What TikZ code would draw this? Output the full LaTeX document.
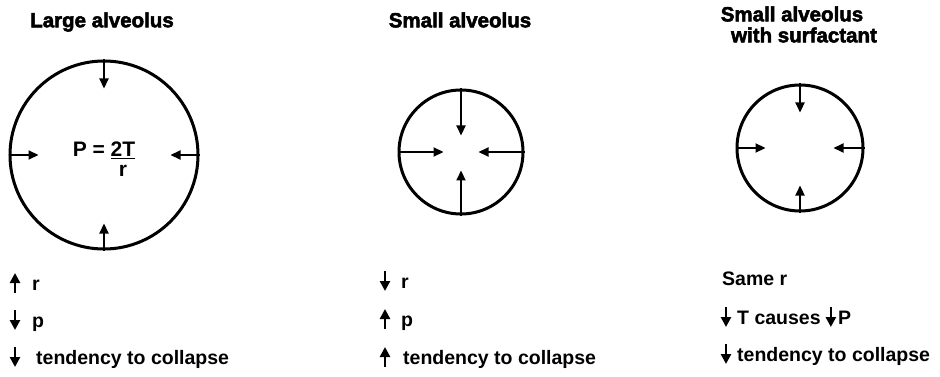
\documentclass[tikz,border=0pt]{standalone}
\usepackage{fontspec}
\setmainfont{Liberation Sans}
\newfontfamily\medfont{Liberation Sans Bold}
\newfontfamily\heavyfont{Liberation Sans Bold}[FakeBold=2.5]
\usetikzlibrary{arrows.meta,calc}
\begin{document}
\begin{tikzpicture}[x=1pt,y=-1pt,
  ring/.style={circle,draw,line width=3pt,inner sep=0pt},
  inarr/.style={line width=2.2pt,-{Triangle[length=10pt,width=9pt]}},
  txtarr/.style={line width=2.6pt,-{Triangle[length=10pt,width=10pt]}},
  title/.style={font=\fontsize{20.5}{24}\selectfont\heavyfont,inner sep=0pt},
  lbl/.style={font=\fontsize{19.5}{24}\selectfont\medfont,inner sep=0pt,anchor=base west}]
\useasboundingbox (0,0) rectangle (940,377);

% titles
\node[title] (t1) at (102,22) {Large alveolus};
\node[title] (t2) at (460,20) {Small alveolus};
\node[title] (t3) at (792,14) {Small alveolus};
\node[title] (t4) at (804,35) {with surfactant};

% circles
\node[ring,minimum size=188pt] (big) at (104,155) {};
\node[ring,minimum size=124pt] (sm) at (461,152) {};
\node[ring,minimum size=126pt] (sf) at (800,148) {};

% arrows in large alveolus
\draw[inarr] (big.north) -- ++(0,29);
\draw[inarr] (big.south) -- ++(0,-27);
\draw[inarr] (big.west) -- ++(30,0);
\draw[inarr] (big.east) -- ++(-29,0);
% arrows in small alveolus
\draw[inarr] (sm.north) -- ++(0,47);
\draw[inarr] (sm.south) -- ++(0,-45);
\draw[inarr] (sm.west) -- ++(46,0);
\draw[inarr] (sm.east) -- ++(-46,0);
% arrows in small alveolus with surfactant
\draw[inarr] (sf.north) -- ++(0,29);
\draw[inarr] (sf.south) -- ++(0,-27);
\draw[inarr] (sf.west) -- ++(30,0);
\draw[inarr] (sf.east) -- ++(-31,0);

% formula
\node[anchor=base,inner sep=0pt,font=\fontsize{21}{24}\selectfont\medfont] (frm) at (104,157)
  {P = \begin{tabular}[t]{@{}c@{}}\underline{2T}\\[-4pt] r\end{tabular}};

% column 1
\node[lbl] (a1) at (32,290) {r};
\draw[txtarr] ($(a1.base west)+(-17,3)$) -- ++(0,-20);
\node[lbl] (a2) at (32,327) {p};
\draw[txtarr] ($(a2.base west)+(-17,-17)$) -- ++(0,20);
\node[lbl] (a3) at (36,364) {tendency to collapse};
\draw[txtarr] ($(a3.base west)+(-21,-17)$) -- ++(0,20);

% column 2
\node[lbl] (b1) at (401,288) {r};
\draw[txtarr] ($(b1.base west)+(-16,-17)$) -- ++(0,20);
\node[lbl] (b2) at (401,326) {p};
\draw[txtarr] ($(b2.base west)+(-16,3)$) -- ++(0,-20);
\node[lbl] (b3) at (403,364) {tendency to collapse};
\draw[txtarr] ($(b3.base west)+(-18,3)$) -- ++(0,-20);

% column 3
\node[lbl] (d1) at (722,285) {Same r};
\node[lbl] (d2) at (737,324) {T causes};
\draw[txtarr] ($(d2.base west)+(-11,-17)$) -- ++(0,20);
\node[lbl] (d3) at ($(d2.base east)+(17,0)$) {P};
\draw[txtarr] ($(d3.base west)+(-7,-17)$) -- ++(0,20);
\node[lbl] (d4) at (737,361) {tendency to collapse};
\draw[txtarr] ($(d4.base west)+(-11,-17)$) -- ++(0,20);
\end{tikzpicture}
\end{document}
